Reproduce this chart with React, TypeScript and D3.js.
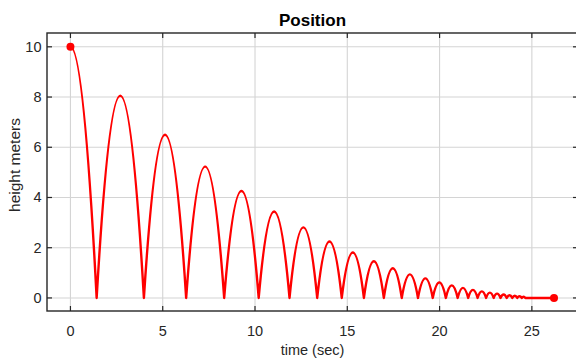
import React from "react";
import * as d3 from "d3";

// Drop start
const startTime = 0;
const startHeight = 10;
// Times (sec) at which the ball hits the ground
const impactTimes = [
  1.42, 3.98, 6.27, 8.33, 10.2, 11.87, 13.37, 14.7, 15.9, 16.98, 17.95, 18.83,
  19.63, 20.34, 20.98, 21.55, 22.06, 22.52, 22.93, 23.3, 23.64, 23.94, 24.21,
  24.45, 24.65,
];
// Peak height (m) of each bounce between consecutive impacts
const peakHeights = [
  8.05, 6.5, 5.23, 4.26, 3.44, 2.81, 2.25, 1.81, 1.46, 1.18, 0.94, 0.78, 0.62,
  0.5, 0.4, 0.32, 0.26, 0.21, 0.17, 0.14, 0.11, 0.09, 0.07, 0.05,
];
const endTime = 26.2;
const endHeight = 0;

const xTicks = [0, 5, 10, 15, 20, 25];
const yTicks = [0, 2, 4, 6, 8, 10];
const title = "Position";
const xLabel = "time (sec)";
const yLabel = "height meters";

const W = 576;
const H = 359;
const L = 47, R = 578, T = 33, B = 311;
const FONT = "'Liberation Sans', Arial, Helvetica, sans-serif";
const AX = "#262626";

export default function App() {
  const x = d3.scaleLinear().domain([-1.27, 27.5]).range([L, R]);
  const y = d3.scaleLinear().domain([-0.52, 10.55]).range([B, T]);

  const p = d3.path();
  p.moveTo(x(startTime), y(startHeight));
  p.quadraticCurveTo(
    x((startTime + impactTimes[0]) / 2),
    y(startHeight),
    x(impactTimes[0]),
    y(0)
  );
  peakHeights.forEach((h, i) => {
    const t0 = impactTimes[i];
    const t1 = impactTimes[i + 1];
    p.quadraticCurveTo(x((t0 + t1) / 2), y(2 * h), x(t1), y(0));
  });
  p.lineTo(x(endTime), y(endHeight));

  const tickLen = 5;

  return (
    <svg
      width={W}
      height={H}
      style={{ position: "absolute", left: 0, top: 0, background: "#fff" }}
      fontFamily={FONT}
    >
      <rect x={0} y={0} width={W} height={H} fill="#fff" />
      {/* grid */}
      <g stroke="#d4d4d4" strokeWidth={1.1}>
        {xTicks.map((t) => (
          <line key={"gx" + t} x1={x(t)} x2={x(t)} y1={T} y2={B} />
        ))}
        {yTicks.map((t) => (
          <line key={"gy" + t} x1={L} x2={R} y1={y(t)} y2={y(t)} />
        ))}
      </g>
      {/* data */}
      <path d={p.toString()} fill="none" stroke="#f00" strokeWidth={2.4} strokeLinejoin="round" />
      <circle cx={x(startTime)} cy={y(startHeight)} r={4} fill="#f00" />
      <circle cx={x(endTime)} cy={y(endHeight)} r={4} fill="#f00" />
      {/* axes box */}
      <rect x={L} y={T} width={R - L} height={B - T} fill="none" stroke={AX} strokeWidth={1.4} />
      <g stroke={AX} strokeWidth={1.2}>
        {xTicks.map((t) => (
          <g key={"tx" + t}>
            <line x1={x(t)} x2={x(t)} y1={B} y2={B - tickLen} />
            <line x1={x(t)} x2={x(t)} y1={T} y2={T + tickLen} />
          </g>
        ))}
        {yTicks.map((t) => (
          <g key={"ty" + t}>
            <line x1={L} x2={L + tickLen} y1={y(t)} y2={y(t)} />
            <line x1={R} x2={R - tickLen} y1={y(t)} y2={y(t)} />
          </g>
        ))}
      </g>
      {/* tick labels */}
      <g fill={AX} fontSize={14.5}>
        {xTicks.map((t) => (
          <text key={"lx" + t} x={x(t)} y={336} textAnchor="middle">
            {t}
          </text>
        ))}
        {yTicks.map((t) => (
          <text key={"ly" + t} x={41.5} y={y(t) + 5} textAnchor="end">
            {t}
          </text>
        ))}
      </g>
      <text x={(L + R) / 2} y={355} textAnchor="middle" fontSize={14.5} fill={AX}>
        {xLabel}
      </text>
      <text
        transform={`translate(20,165) rotate(-90)`}
        textAnchor="middle"
        fontSize={15.5}
        fill={AX}
      >
        {yLabel}
      </text>
      <text
        x={(L + R) / 2}
        y={26}
        textAnchor="middle"
        fontSize={17}
        fontWeight="bold"
        fill="#000"
      >
        {title}
      </text>
    </svg>
  );
}
